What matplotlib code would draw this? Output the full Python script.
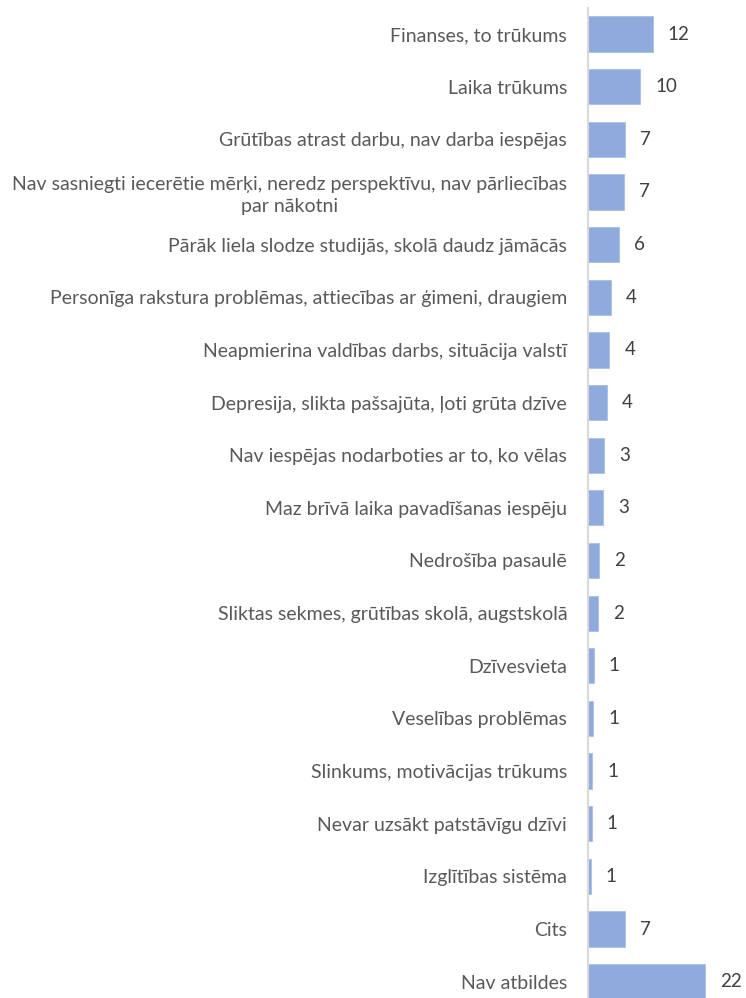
import matplotlib
matplotlib.use("Agg")
import matplotlib.pyplot as plt

categories = [
    "Finanses, to trūkums",
    "Laika trūkums",
    "Grūtības atrast darbu, nav darba iespējas",
    "Nav sasniegti iecerētie mērķi, neredz perspektīvu, nav pārliecības\npar nākotni",
    "Pārāk liela slodze studijās, skolā daudz jāmācās",
    "Personīga rakstura problēmas, attiecības ar ģimeni, draugiem",
    "Neapmierina valdības darbs, situācija valstī",
    "Depresija, slikta pašsajūta, ļoti grūta dzīve",
    "Nav iespējas nodarboties ar to, ko vēlas",
    "Maz brīvā laika pavadīšanas iespēju",
    "Nedrošība pasaulē",
    "Sliktas sekmes, grūtības skolā, augstskolā",
    "Dzīvesvieta",
    "Veselības problēmas",
    "Slinkums, motivācijas trūkums",
    "Nevar uzsākt patstāvīgu dzīvi",
    "Izglītības sistēma",
    "Cits",
    "Nav atbildes",
]
values = [12.4, 10.0, 7.1, 6.8, 6.0, 4.4, 4.1, 3.6, 3.1, 2.9, 2.1, 1.9,
          1.1, 0.95, 0.8, 0.7, 0.55, 7.1, 22.4]
value_labels = ["12", "10", "7", "7", "6", "4", "4", "4", "3", "3", "2", "2",
                "1", "1", "1", "1", "1", "7", "22"]

W, H = 746, 998
fig = plt.figure(figsize=(W / 100, H / 100), dpi=100)
plt.rcParams['font.family'] = ['Lato', 'DejaVu Sans']

row = 52.65
top_px = 34 - row / 2
height_px = row * len(categories)
left_px = 588
ax = fig.add_axes([left_px / W, 1 - (top_px + height_px) / H,
                   (W - left_px) / W, height_px / H])

ypos = list(range(len(categories)))
ax.barh(ypos, values, height=0.67, color="#8FAADC", edgecolor="#A9BFE6",
        linewidth=0.6)
ax.set_ylim(len(categories) - 0.5, -0.5)
ax.set_xlim(0, (W - left_px) / 5.23)

for y, v, lab in zip(ypos, values, value_labels):
    ax.annotate(lab, (v, y), xytext=(15, 0), textcoords="offset pixels",
                ha="left", va="center", fontsize=13.5, color="#404040")

ax.set_yticks(ypos)
ax.set_yticklabels(categories, fontsize=14, color="#595959")
for t in ax.get_yticklabels():
    t.set_multialignment("center")
    t.set_linespacing(1.35)
ax.tick_params(axis="y", length=0, pad=15)
ax.set_xticks([])
for s in ["top", "right", "bottom"]:
    ax.spines[s].set_visible(False)
ax.spines["left"].set_color("#D9D9D9")
ax.spines["left"].set_linewidth(1.5)

fig.savefig("out.png", dpi=100)
